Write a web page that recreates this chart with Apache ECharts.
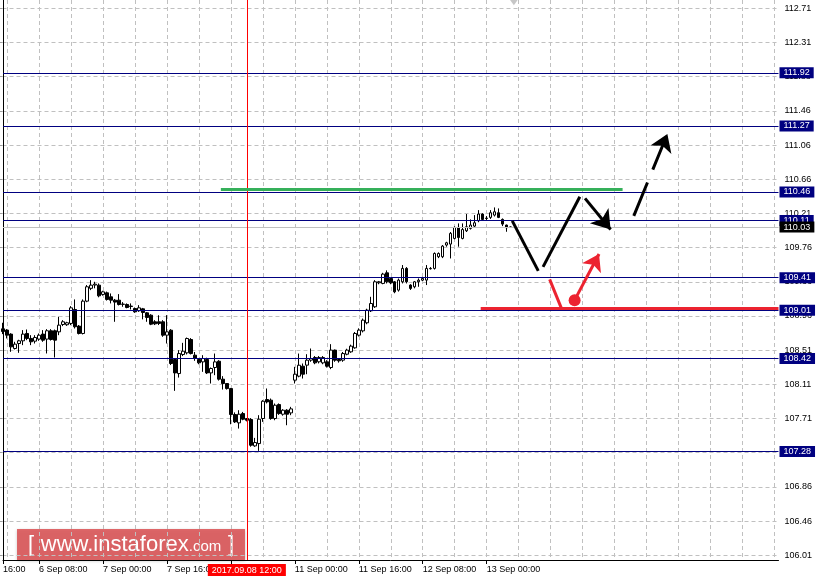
<!DOCTYPE html>
<html><head><meta charset="utf-8">
<script src="https://cdn.jsdelivr.net/npm/echarts@6/dist/echarts.min.js"></script>
<style>html,body{margin:0;padding:0;background:#fff}#c{width:818px;height:581px}</style>
</head><body><div id="c"></div>
<script>
// ---- time categories (H1 bars) ----
const days = [['5 Sep',23,23],['6 Sep',0,23],['7 Sep',0,23],['8 Sep',0,23],['11 Sep',0,23],['12 Sep',0,23],['13 Sep',0,6]];
const futureSlots = 67;
// ---- OHLC values ----
const opens = [108.784,108.768,108.719,108.543,108.604,108.637,108.727,108.666,108.633,108.658,
108.719,108.658,108.760,108.76,108.747,108.837,108.834,108.85,109.021,108.817,
108.727,109.123,109.28,109.32,109.319,109.205,109.225,109.176,109.135,109.135,
109.086,109.082,109.062,109.033,109.005,109.029,108.98,108.951,108.87,108.87,
108.87,108.706,108.767,108.408,108.236,108.469,108.49,108.653,108.461,108.408,
108.379,108.408,108.244,108.31,108.387,108.167,108.114,108.052,107.734,107.632,
107.746,107.685,107.673,107.35,107.378,107.685,107.918,107.91,107.685,107.856,
107.738,107.787,107.754,108.155,108.204,108.326,108.339,108.4,108.433,108.38,
108.367,108.38,108.31,108.523,108.408,108.4,108.473,108.502,108.551,108.706,
108.759,108.858,109.004,109.054,109.348,109.34,109.47,109.4,109.36,109.258,
109.36,109.524,109.32,109.299,109.36,109.38,109.381,109.524,109.524,109.667,
109.667,109.81,109.822,109.891,110.026,109.891,109.985,110.014,110.042,110.108,
110.19,110.14,110.149,110.177,110.206,110.124,110.055,110.03];
const closes = [108.751,108.706,108.563,108.596,108.637,108.719,108.666,108.625,108.678,108.706,
108.645,108.760,108.653,108.645,108.829,108.87,108.858,109.041,108.809,108.727,
109.123,109.299,109.319,109.331,109.188,109.237,109.144,109.135,109.111,109.082,
109.084,109.045,109.058,108.992,109.041,108.984,108.923,108.841,108.845,108.85,
108.706,108.747,108.359,108.244,108.481,108.51,108.665,108.481,108.42,108.367,
108.42,108.244,108.298,108.379,108.167,108.114,108.052,107.734,107.644,107.738,
107.677,107.664,107.358,107.391,107.677,107.897,107.889,107.685,107.848,107.746,
107.787,107.738,107.803,108.228,108.338,108.228,108.4,108.42,108.367,108.433,
108.433,108.326,108.523,108.4,108.392,108.481,108.523,108.572,108.727,108.768,
108.89,109.013,109.094,109.36,109.36,109.454,109.36,109.348,109.237,109.381,
109.524,109.36,109.279,109.36,109.38,109.401,109.524,109.52,109.707,109.707,
109.797,109.838,109.953,110.026,109.903,110.0,110.034,110.055,110.083,110.19,
110.124,110.136,110.206,110.218,110.149,110.067,110.022,110.031];
const lows = [108.719,108.666,108.502,108.531,108.49,108.584,108.645,108.584,108.604,108.637,
108.625,108.482,108.64,108.433,108.706,108.817,108.82,108.829,108.788,108.715,
108.715,109.11,109.258,109.28,109.17,109.19,109.13,109.095,108.87,109.07,
109.054,109.035,109.021,108.98,108.992,108.9,108.87,108.829,108.83,108.83,
108.686,108.604,108.34,108.024,108.187,108.45,108.47,108.47,108.392,108.35,
108.257,108.23,108.114,108.216,108.15,108.04,108.04,107.615,107.63,107.562,
107.664,107.65,107.34,107.338,107.289,107.644,107.87,107.67,107.664,107.73,
107.72,107.603,107.726,108.114,108.19,108.175,108.228,108.38,108.35,108.36,
108.35,108.31,108.29,108.38,108.37,108.38,108.46,108.49,108.54,108.69,
108.74,108.84,108.99,109.04,109.33,109.33,109.34,109.33,109.22,109.24,
109.34,109.34,109.26,109.28,109.299,109.37,109.32,109.51,109.51,109.65,
109.65,109.79,109.646,109.88,109.79,109.88,109.97,110.0,110.03,110.09,
110.11,110.108,110.13,110.16,110.14,110.042,109.973,110.025];
const highs = [108.858,108.78,108.73,108.625,108.65,108.768,108.776,108.706,108.706,108.727,
108.768,108.78,108.78,108.775,108.931,108.89,108.87,109.062,109.144,108.83,
109.144,109.32,109.38,109.36,109.34,109.25,109.24,109.217,109.15,109.209,
109.111,109.095,109.095,109.045,109.074,109.04,108.99,108.963,108.89,108.95,
108.89,108.951,108.78,108.42,108.522,108.612,108.677,108.67,108.5,108.42,
108.461,108.43,108.31,108.481,108.4,108.204,108.12,108.06,107.76,107.787,
107.766,107.69,107.69,107.448,107.726,107.91,108.053,107.93,107.869,107.87,
107.8,107.8,107.828,108.318,108.481,108.359,108.473,108.543,108.45,108.45,
108.45,108.40,108.596,108.53,108.42,108.5,108.54,108.59,108.745,108.79,
108.91,109.03,109.176,109.38,109.37,109.47,109.5,109.41,109.37,109.40,
109.565,109.54,109.33,109.37,109.401,109.42,109.565,109.54,109.72,109.72,
109.81,109.85,109.97,110.04,110.075,110.075,110.19,110.124,110.177,110.238,
110.2,110.165,110.238,110.271,110.259,110.136,110.06,110.035];
// ---- horizontal levels ----
const navyLevels = [111.92,111.27,110.46,110.11,109.41,109.01,108.42,107.28];
const currentPrice = 110.03;
const markedTime = '8 Sep 12:00';
const markedTimeLabel = '2017.09.08 12:00';
// ---- axis tick labels ----
const yTickLabels = ['106.01','106.46','106.86','107.27','107.71','108.11','108.51','108.96','109.36','109.76','110.21','110.66','111.06','111.46','111.88','112.31','112.71'];
const xLabelIdx = [0,9,25,41,57,73,89,105,121];
const xLabelTxt = ['16:00','6 Sep 08:00','7 Sep 00:00','7 Sep 16:00','8 Sep 08:00','11 Sep 00:00','11 Sep 16:00','12 Sep 08:00','13 Sep 00:00'];
// ---- drawn analysis (bar index, price) ----
const greenLevel = [[54.5,110.488],[155,110.488]];
const redLevel = [[119.5,109.042],[194,109.042]];
const blackSegs = [[[127.4,110.107],[133.9,109.494]],[[135.1,109.543],[144.3,110.401]]];
const blackArrows = [[[145.6,110.382],[152,110.0]]];
const dashedArrow = [[[157.8,110.168],[166.2,111.17]]];
const redSegs = [[[136.75,109.389],[139.7,109.035]]];
const redArrows = [[[143,109.135],[149.1,109.70]]];
const redDot = [[143,109.135]];
const shiftMarker = [[127.8,112.79]];

const cats = [];
days.forEach(([d,a,b])=>{for(let h=a;h<=b;h++)cats.push(d+' '+String(h).padStart(2,'0')+':00');});
for(let i=0;i<futureSlots;i++)cats.push('+'+(i+1));
const labelMap = {}; xLabelIdx.forEach((k,j)=>labelMap[k]=xLabelTxt[j]);
const candleData = opens.map((o,i)=>[o,closes[i],lows[i],highs[i]]);
const FONT = 'Liberation Sans';
const RED = '#ec2330';

function linesSeries(segs, color, extra){
  return Object.assign({type:'lines',coordinateSystem:'cartesian2d',xAxisIndex:1,yAxisIndex:0,silent:true,z:10,
    lineStyle:{color:color,width:3,opacity:1},data:segs.map(c=>({coords:c}))}, extra||{});
}

const chart = echarts.init(document.getElementById('c'),null,{renderer:'canvas'});
chart.setOption({
  animation:false,
  backgroundColor:'#ffffff',
  grid:[{left:2.5,right:39.5,top:0,height:560},{left:2.5,right:39.5,top:8.3,height:547}],
  xAxis:[
    {type:'category',gridIndex:0,data:cats,boundaryGap:false,
     axisLine:{lineStyle:{color:'#000',width:1}},
     axisTick:{interval:(i)=>labelMap[i]!==undefined,length:4,lineStyle:{color:'#000'}},
     axisLabel:{interval:(i)=>labelMap[i]!==undefined,formatter:(v,i)=>labelMap[i]||'',align:'left',color:'#000',fontSize:9,fontFamily:FONT,margin:5,showMinLabel:true,showMaxLabel:true},
     splitLine:{show:true,interval:(i)=>(i-1)%8===0,lineStyle:{color:'#c0c0c0',type:[4,3],width:1}}},
    {type:'value',gridIndex:0,min:0,max:194,show:false},
    {type:'value',gridIndex:1,min:0,max:1,show:false}
  ],
  yAxis:[
    {type:'value',gridIndex:0,position:'right',min:105.952,max:112.812,scale:true,
     axisLine:{show:true,lineStyle:{color:'#000',width:1}},axisTick:{show:false},axisLabel:{show:false},splitLine:{show:false}},
    {type:'value',gridIndex:1,position:'right',min:0,max:16,interval:1,
     axisLine:{show:false},axisTick:{show:true,inside:true,length:3,lineStyle:{color:'#a0a0a0'}},
     axisLabel:{formatter:(v)=>yTickLabels[Math.round(v)]||'',color:'#000',fontSize:9,fontFamily:FONT,margin:6},
     splitLine:{show:true,lineStyle:{color:'#c0c0c0',type:[4,3],width:1}}}
  ],
  series:[
    {type:'candlestick',xAxisIndex:0,yAxisIndex:0,data:candleData,barWidth:3,
     itemStyle:{color:'#ffffff',color0:'#000000',borderColor:'#000000',borderColor0:'#000000',borderWidth:1},
     markLine:{silent:true,symbol:'none',animation:false,
       data:[
         ...navyLevels.map(v=>({yAxis:v,lineStyle:{color:'#000080',width:1,type:'solid'},
           label:{show:true,position:'end',formatter:v.toFixed(2),backgroundColor:'#000080',color:'#fff',fontSize:9,fontFamily:FONT,padding:[1,4,0,4],lineHeight:10,distance:1}})),
         {yAxis:currentPrice,lineStyle:{color:'#c0c0c0',width:1,type:'solid'},
           label:{show:true,position:'end',formatter:currentPrice.toFixed(2),backgroundColor:'#000',color:'#fff',fontSize:9,fontFamily:FONT,padding:[1,4,0,4],lineHeight:10,distance:1}},
         {xAxis:markedTime,lineStyle:{color:'#ff0000',width:1,type:'solid'},
           label:{show:true,position:'start',formatter:markedTimeLabel,backgroundColor:'#ff0000',color:'#fff',fontSize:9,fontFamily:FONT,padding:[2,4,1,4],distance:4}}
       ]}},
    linesSeries([greenLevel],'#35b05a'),
    linesSeries([redLevel],RED),
    linesSeries(blackSegs,'#000'),
    linesSeries(blackArrows,'#000',{symbol:['none','arrow'],symbolSize:18}),
    linesSeries(dashedArrow,'#000',{symbol:['none','arrow'],symbolSize:17,lineStyle:{color:'#000',width:3,opacity:1,type:[36,14]}}),
    linesSeries(redSegs,RED),
    linesSeries(redArrows,RED,{symbol:['none','arrow'],symbolSize:16}),
    {type:'scatter',xAxisIndex:1,yAxisIndex:0,silent:true,z:11,data:redDot,symbolSize:12,itemStyle:{color:RED,opacity:1}},
    {type:'scatter',xAxisIndex:1,yAxisIndex:0,silent:true,data:shiftMarker,symbol:'triangle',symbolRotate:180,symbolSize:[10,7],itemStyle:{color:'#b8b8b8'},clip:false}
  ],
  graphic:[{type:'group',left:17,top:529,children:[
    {type:'rect',shape:{x:0,y:0,width:228,height:31},style:{fill:'rgba(220,80,82,0.85)',shadowBlur:3,shadowColor:'rgba(0,0,0,0.25)',shadowOffsetY:1}},
    {type:'text',x:11,y:16,style:{text:'{b|[}  {m|www.instaforex}{s|.com}  {b|]}',verticalAlign:'middle',fill:'#fff',
      rich:{b:{fontSize:22,fontFamily:FONT,fill:'#fff'},m:{fontSize:22,fontFamily:FONT,fill:'#fff'},s:{fontSize:15,fontFamily:FONT,fill:'#fff',padding:[4,0,0,0]}}}}
  ]}]
});
</script></body></html>
